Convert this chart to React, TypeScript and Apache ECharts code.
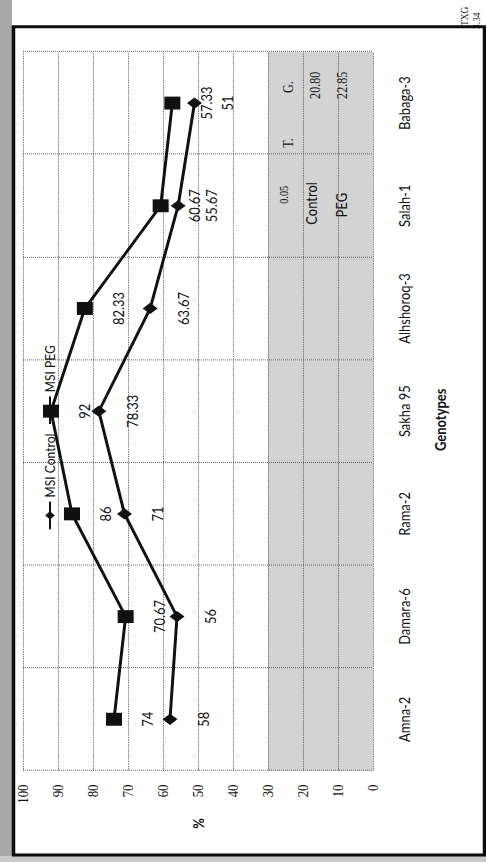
import React, { useEffect, useRef } from "react";
import * as echarts from "echarts";

// Moisture stress index (%) of seven genotypes under control and PEG stress
const genotypes = ["Amna-2", "Damara-6", "Rama-2", "Sakha 95", "Alhshoroq-3", "Salah-1", "Babaga-3"];
const msiControl = [58, 56, 71, 78.33, 63.67, 55.67, 51];
const msiPeg = [74, 70.67, 86, 92, 82.33, 60.67, 57.33];

// percent axis
const percentMin = 0;
const percentMax = 100;
const percentStep = 10;

// shaded band behind the LSD table (percent range)
const lsdBand = [0, 30];

// LSD table texts
const lsdLevel = "0.05";
const lsdHeaders = ["T.", "G."];
const lsdRowNames = ["Control", "PEG"];
const lsdGenotypeValues = ["20.80", "22.85"];
const txgHeader = "TXG";
const txgValue = "3.34";

// page is portrait; the chart is laid out landscape then turned a quarter turn
const PAGE_W = 486;
const PAGE_H = 862;
const SQUEEZE = 0.862;
const CHART_W = 1000;
const CHART_H = 486;

const SANS = "Lato, 'Open Sans', sans-serif";
const SERIF = "'Liberation Serif', 'DejaVu Serif', serif";
const INK = "#111";

function buildOption() {
  const labelStyle = {
    show: true,
    position: "bottom" as const,
    distance: 18,
    color: INK,
    fontFamily: SANS,
    fontSize: 15,
  };
  const tableText = (text: string, x: number, y: number, font: string, size: number) => ({
    type: "text",
    x,
    y,
    silent: true,
    style: {
      text,
      align: "center",
      verticalAlign: "middle",
      textAlign: "center",
      textVerticalAlign: "middle",
      fontFamily: font,
      fontSize: size,
      fill: INK,
    },
  });

  return {
    animation: false,
    backgroundColor: "#ffffff",
    grid: { left: 106, right: 60, top: 23, bottom: 113, containLabel: false },
    legend: {
      data: ["MSI Control", "MSI PEG"],
      left: 380,
      top: 38,
      itemWidth: 32,
      itemHeight: 12,
      itemGap: 10,
      textStyle: { color: INK, fontFamily: SANS, fontSize: 14 },
    },
    xAxis: {
      type: "category",
      data: genotypes,
      boundaryGap: true,
      name: "Genotypes",
      nameLocation: "middle",
      nameGap: 60,
      nameTextStyle: { color: INK, fontFamily: SANS, fontSize: 15, fontWeight: "bold", padding: [0, 20, 0, 0] },
      axisLine: { show: false },
      axisTick: { show: false },
      axisLabel: { interval: 0, margin: 24, color: INK, fontFamily: SANS, fontSize: 15 },
      splitLine: { show: true, interval: 0, lineStyle: { color: "#555", type: "dotted", width: 1 } },
    },
    yAxis: {
      type: "value",
      min: percentMin,
      max: percentMax,
      interval: percentStep,
      name: "%",
      nameLocation: "middle",
      nameRotate: 0,
      nameGap: 55,
      nameTextStyle: { color: INK, fontFamily: SANS, fontSize: 15, fontWeight: "bold" },
      axisLine: { show: false },
      axisTick: { show: false },
      axisLabel: { margin: 16, color: INK, fontFamily: SERIF, fontSize: 15 },
      splitLine: { show: true, lineStyle: { color: "#555", type: "dotted", width: 1 } },
    },
    series: [
      {
        name: "lsd-band",
        type: "line",
        data: [],
        z: -1,
        silent: true,
        markArea: {
          silent: true,
          z: -1,
          itemStyle: { color: "#d3d3d3" },
          data: [[{ yAxis: lsdBand[0] }, { yAxis: lsdBand[1] }]],
        },
      },
      {
        name: "MSI Control",
        type: "line",
        data: msiControl,
        symbol: "diamond",
        symbolSize: [13, 15],
        lineStyle: { color: INK, width: 3 },
        itemStyle: { color: INK },
        label: labelStyle,
      },
      {
        name: "MSI PEG",
        type: "line",
        data: msiPeg,
        symbol: "rect",
        symbolSize: [15, 16],
        lineStyle: { color: INK, width: 3 },
        itemStyle: { color: INK },
        label: labelStyle,
      },
    ],
    graphic: [
      // scanner edge and the chart frame
      { type: "rect", silent: true, z: -10, shape: { x: 0, y: 0, width: CHART_W, height: 12 }, style: { fill: "#a9a9a9" } },
      { type: "rect", silent: true, z: -10, shape: { x: 0, y: 0, width: 7, height: CHART_H }, style: { fill: "#c9c9c9" } },
      {
        type: "rect",
        silent: true,
        z: 10,
        shape: { x: 8, y: 13.5, width: 961, height: 471 },
        style: { fill: "none", stroke: "#0d0d0d", lineWidth: 3.5 },
      },
      tableText(lsdLevel, 774, 284, SERIF, 12),
      tableText(lsdHeaders[0], 834, 288, SERIF, 14),
      tableText(lsdHeaders[1], 899, 288, SERIF, 14),
      tableText(lsdRowNames[0], 764, 311, SANS, 15),
      tableText(lsdRowNames[1], 762, 341, SANS, 15),
      tableText(lsdGenotypeValues[0], 901, 315, SERIF, 14),
      tableText(lsdGenotypeValues[1], 901, 342, SERIF, 14),
      tableText(txgHeader, 981, 464, SERIF, 11),
      tableText(txgValue, 976, 476, SERIF, 11),
    ],
  };
}

export default function App() {
  const ref = useRef<HTMLDivElement>(null);

  useEffect(() => {
    if (!ref.current) return;
    const chart = echarts.init(ref.current, null, { renderer: "svg" });
    chart.setOption(buildOption() as any);
    return () => chart.dispose();
  }, []);

  return (
    <div
      style={{
        position: "fixed",
        left: 0,
        top: 0,
        width: PAGE_W,
        height: PAGE_H,
        overflow: "hidden",
        background: "#ffffff",
      }}
    >
      <div
        ref={ref}
        style={{
          position: "absolute",
          left: 0,
          top: 0,
          width: CHART_W,
          height: CHART_H,
          transformOrigin: "0 0",
          transform: `translate(0px, ${PAGE_H}px) rotate(-90deg) scale(${SQUEEZE}, 1)`,
        }}
      />
    </div>
  );
}
